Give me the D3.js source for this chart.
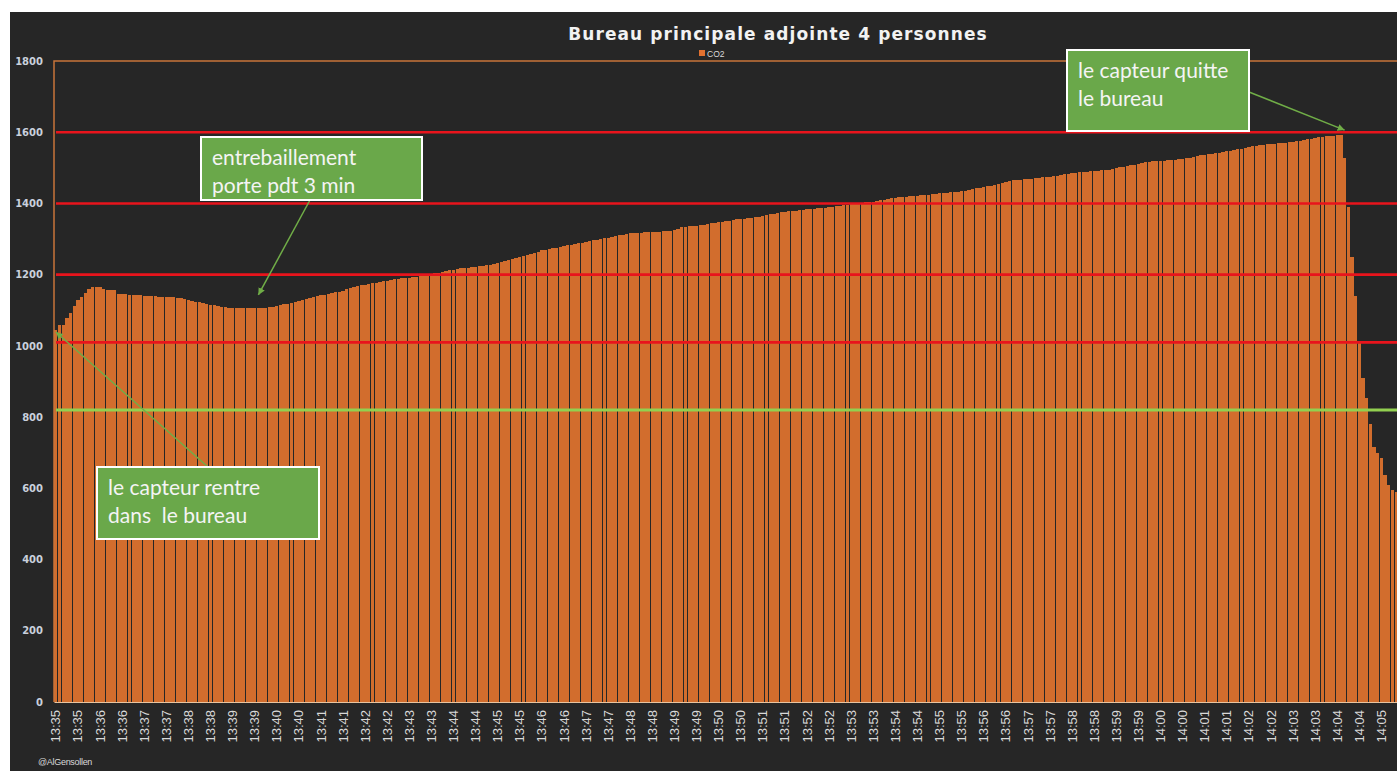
<!DOCTYPE html>
<html>
<head>
<meta charset="utf-8">
<script src="https://cdn.jsdelivr.net/npm/d3@7"></script>
<style>
  body { margin: 0; background: #ffffff; }
  svg { display: block; }
</style>
</head>
<body>
<div id="chart"></div>
<script>
// chart values
const title = "Bureau principale adjointe 4 personnes";
const seriesName = "CO2";

const tickLabels = [
    "13:35", "13:35", "13:36", "13:36", "13:37", "13:37", "13:38", "13:38", "13:39", "13:39",
    "13:40", "13:40", "13:41", "13:41", "13:42", "13:42", "13:43", "13:43", "13:44", "13:44",
    "13:45", "13:45", "13:46", "13:46", "13:47", "13:47", "13:48", "13:48", "13:49", "13:49",
    "13:50", "13:50", "13:51", "13:51", "13:52", "13:52", "13:53", "13:53", "13:54", "13:54",
    "13:55", "13:55", "13:56", "13:56", "13:57", "13:57", "13:58", "13:58", "13:59", "13:59",
    "14:00", "14:00", "14:01", "14:01", "14:02", "14:02", "14:03", "14:03", "14:04", "14:04",
    "14:05"
];
const barsPerLabel = 6;

const yTicks = [0, 200, 400, 600, 800, 1000, 1200, 1400, 1600, 1800];
const redLevels = [1600, 1400, 1200, 1010];
const greenLevel = 820;

// one reading every 5 s
const co2 = [
    1045, 1060, 1060, 1079, 1092, 1112, 1129, 1138, 1149, 1159, 1165, 1165,
    1165, 1160, 1157, 1157, 1157, 1146, 1145, 1145, 1144, 1143, 1143, 1142,
    1140, 1140, 1139, 1139, 1138, 1138, 1137, 1137, 1136, 1135, 1134, 1133,
    1128, 1126, 1124, 1122, 1120, 1118, 1116, 1114, 1112, 1110, 1108, 1107,
    1106, 1105, 1105, 1105, 1105, 1105, 1105, 1106, 1106, 1107, 1108, 1110,
    1112, 1115, 1117, 1119, 1121, 1123, 1125, 1128, 1131, 1134, 1137, 1140,
    1142, 1144, 1146, 1148, 1150, 1152, 1155, 1160, 1163, 1166, 1168, 1170,
    1172, 1174, 1176, 1178, 1180, 1182, 1183, 1185, 1187, 1189, 1190, 1191,
    1192, 1193, 1194, 1195, 1197, 1200, 1202, 1204, 1206, 1208, 1210, 1212,
    1214, 1216, 1218, 1219, 1220, 1221, 1222, 1223, 1224, 1226, 1228, 1230,
    1232, 1235, 1238, 1241, 1244, 1247, 1250, 1253, 1256, 1259, 1262, 1265,
    1268, 1270, 1272, 1274, 1276, 1278, 1280, 1282, 1284, 1286, 1288, 1290,
    1292, 1294, 1296, 1298, 1300, 1302, 1304, 1306, 1308, 1310, 1312, 1314,
    1316, 1316, 1317, 1318, 1320, 1321, 1321, 1321, 1321, 1322, 1322, 1323,
    1326, 1329, 1333, 1335, 1336, 1337, 1338, 1339, 1340, 1342, 1344, 1346,
    1347, 1348, 1350, 1352, 1354, 1355, 1356, 1357, 1358, 1360, 1361, 1363,
    1365, 1367, 1369, 1371, 1373, 1375, 1377, 1378, 1379, 1380, 1381, 1382,
    1383, 1384, 1385, 1386, 1387, 1388, 1389, 1390, 1392, 1394, 1396, 1397,
    1398, 1400, 1401, 1402, 1403, 1404, 1405, 1407, 1409, 1411, 1413, 1415,
    1416, 1417, 1418, 1419, 1420, 1421, 1422, 1423, 1424, 1425, 1426, 1427,
    1428, 1429, 1430, 1431, 1432, 1433, 1434, 1436, 1438, 1440, 1442, 1444,
    1446, 1448, 1450, 1452, 1455, 1458, 1461, 1463, 1465, 1466, 1467, 1468,
    1469, 1470, 1471, 1472, 1473, 1474, 1475, 1476, 1478, 1480, 1482, 1484,
    1485, 1486, 1487, 1488, 1489, 1490, 1491, 1492, 1493, 1494, 1495, 1497,
    1499, 1501, 1503, 1505, 1507, 1509, 1511, 1513, 1515, 1517, 1518, 1519,
    1520, 1520, 1521, 1522, 1523, 1524, 1525, 1527, 1529, 1531, 1533, 1535,
    1537, 1539, 1540, 1541, 1542, 1544, 1546, 1548, 1550, 1552, 1554, 1556,
    1558, 1560, 1562, 1564, 1565, 1566, 1567, 1568, 1569, 1570, 1571, 1572,
    1573, 1574, 1576, 1578, 1580, 1582, 1584, 1586, 1587, 1588, 1589, 1590,
    1592, 1592, 1528, 1390, 1250, 1140, 1010, 910, 855, 780, 716, 700,
    685, 637, 610, 595, 590
];

// callouts: text lines, and the reading the arrow points at
const noteLines = [
    ["entrebaillement", "porte pdt 3 min"],
    ["le capteur quitte", "le bureau"],
    ["le capteur rentre", "dans  le bureau"]
];
const noteTargets = [
    { index: 55, value: 1143 },
    { index: 350, value: 1606 },
    { index: 0, value: 1039 }
];

let width = 1397,
    height = 771;

let plot = { left: 54, top: 61, right: 1398, bottom: 702 };

var svg = d3.select("#chart")
    .append("svg")
    .attr("width", width)
    .attr("height", height)
    .style("font-family", "'Liberation Sans', Arial, sans-serif");

// dark chart area (white frame around it in the screenshot)
svg.append("rect")
    .attr("x", 10)
    .attr("y", 12)
    .attr("width", width - 10)
    .attr("height", height - 12)
    .attr("fill", "#262626");

var x = d3.scaleBand()
    .domain(d3.range(co2.length))
    .range([plot.left, plot.right])
    .paddingInner(0.1)
    .paddingOuter(0.05);

var y = d3.scaleLinear()
    .domain([0, 1800])
    .range([plot.bottom, plot.top]);

function xc(i) {
    return x(i) + x.bandwidth() / 2;
}

// bars
svg.append("g")
    .selectAll("rect")
    .data(co2)
    .enter()
    .append("rect")
    .attr("x", (d, i) => x(i))
    .attr("y", d => y(d))
    .attr("width", x.bandwidth())
    .attr("height", d => y(0) - y(d))
    .attr("fill", "#d26d2d")
    .attr("shape-rendering", "crispEdges");

// plot frame, top and left
svg.append("path")
    .attr("d", "M" + plot.left + "," + plot.bottom + "V" + plot.top + "H" + width)
    .attr("fill", "none")
    .attr("stroke", "#c8743a")
    .attr("stroke-width", 1.5);

// y axis, labels only
var yAxis = d3.axisLeft(y)
    .tickValues(yTicks)
    .tickFormat(d3.format("d"))
    .tickSize(0)
    .tickPadding(11);

var gy = svg.append("g")
    .attr("transform", "translate(" + plot.left + ",0)")
    .call(yAxis);
gy.select(".domain").remove();
gy.selectAll("text")
    .attr("fill", "#c9d0dc")
    .style("font-family", "'DejaVu Sans', sans-serif")
    .style("font-size", "10px")
    .style("font-weight", "bold");

// x axis, one label every 6 readings
var xAxis = d3.axisBottom(x)
    .tickValues(d3.range(0, co2.length, barsPerLabel))
    .tickFormat(i => tickLabels[i / barsPerLabel])
    .tickSize(0);

var gx = svg.append("g")
    .attr("transform", "translate(0," + plot.bottom + ")")
    .call(xAxis);
gx.select(".domain")
    .attr("stroke", "#e8c4a0")
    .attr("stroke-width", 1.2);
gx.selectAll("text")
    .attr("fill", "#d9d9d9")
    .style("font-size", "13px")
    .attr("text-anchor", "end")
    .attr("transform", "rotate(-90)")
    .attr("x", -8)
    .attr("y", 0)
    .attr("dy", "0.35em");

// reference levels
svg.append("g")
    .selectAll("line")
    .data(redLevels)
    .enter()
    .append("line")
    .attr("x1", plot.left + 2)
    .attr("x2", width)
    .attr("y1", d => y(d))
    .attr("y2", d => y(d))
    .attr("stroke", "#e8141c")
    .attr("stroke-width", 2.6);

svg.append("line")
    .attr("x1", plot.left + 2)
    .attr("x2", width)
    .attr("y1", y(greenLevel))
    .attr("y2", y(greenLevel))
    .attr("stroke", "#92d050")
    .attr("stroke-width", 3.2);

// title and legend
svg.append("text")
    .attr("x", 778)
    .attr("y", 40)
    .attr("text-anchor", "middle")
    .attr("fill", "#f2f2f2")
    .style("font-family", "'DejaVu Sans', sans-serif")
    .style("font-size", "17px")
    .style("font-weight", "bold")
    .style("letter-spacing", "1.1px")
    .text(title);

svg.append("rect")
    .attr("x", 699)
    .attr("y", 50)
    .attr("width", 6)
    .attr("height", 6)
    .attr("fill", "#e07030");

svg.append("text")
    .attr("x", 707)
    .attr("y", 56.5)
    .attr("fill", "#d9d9d9")
    .style("font-size", "8.5px")
    .text(seriesName);

// signature
svg.append("text")
    .attr("x", 38)
    .attr("y", 765)
    .attr("fill", "#d9d9d9")
    .style("font-size", "9px")
    .style("letter-spacing", "-0.3px")
    .text("@AlGensollen");

// -- CALLOUTS ----------------------------

svg.append("defs")
    .append("marker")
    .attr("id", "head")
    .attr("viewBox", "0 0 10 10")
    .attr("refX", 10)
    .attr("refY", 5)
    .attr("markerWidth", 7)
    .attr("markerHeight", 7)
    .attr("markerUnits", "userSpaceOnUse")
    .attr("orient", "auto")
    .append("path")
    .attr("d", "M0,0L10,5L0,10Z")
    .attr("fill", "#70ad47");

var boxes = [
    { x: 201, y: 137, w: 221, h: 63, from: [310, 200] },
    { x: 1067, y: 50, w: 182, h: 81, from: [1249, 92] },
    { x: 97, y: 467, w: 222, h: 72, from: [208, 467] }
];

boxes.forEach(function(b, k) {
    let t = noteTargets[k];

    svg.append("line")
        .attr("x1", b.from[0])
        .attr("y1", b.from[1])
        .attr("x2", xc(t.index))
        .attr("y2", y(t.value))
        .attr("stroke", "#70ad47")
        .attr("stroke-width", 1.5)
        .attr("marker-end", "url(#head)");

    svg.append("rect")
        .attr("x", b.x)
        .attr("y", b.y)
        .attr("width", b.w)
        .attr("height", b.h)
        .attr("fill", "#6aa84a")
        .attr("stroke", "#ffffff")
        .attr("stroke-width", 2);

    svg.append("text")
        .attr("x", b.x + 11)
        .attr("y", b.y + 28)
        .attr("fill", "#f4f4f4")
        .style("font-family", "Lato, sans-serif")
        .style("font-size", "21px")
        .style("white-space", "pre")
        .selectAll("tspan")
        .data(noteLines[k])
        .enter()
        .append("tspan")
        .attr("x", b.x + 11)
        .attr("dy", (d, j) => j == 0 ? 0 : 28)
        .text(d => d);
});
</script>
</body>
</html>
